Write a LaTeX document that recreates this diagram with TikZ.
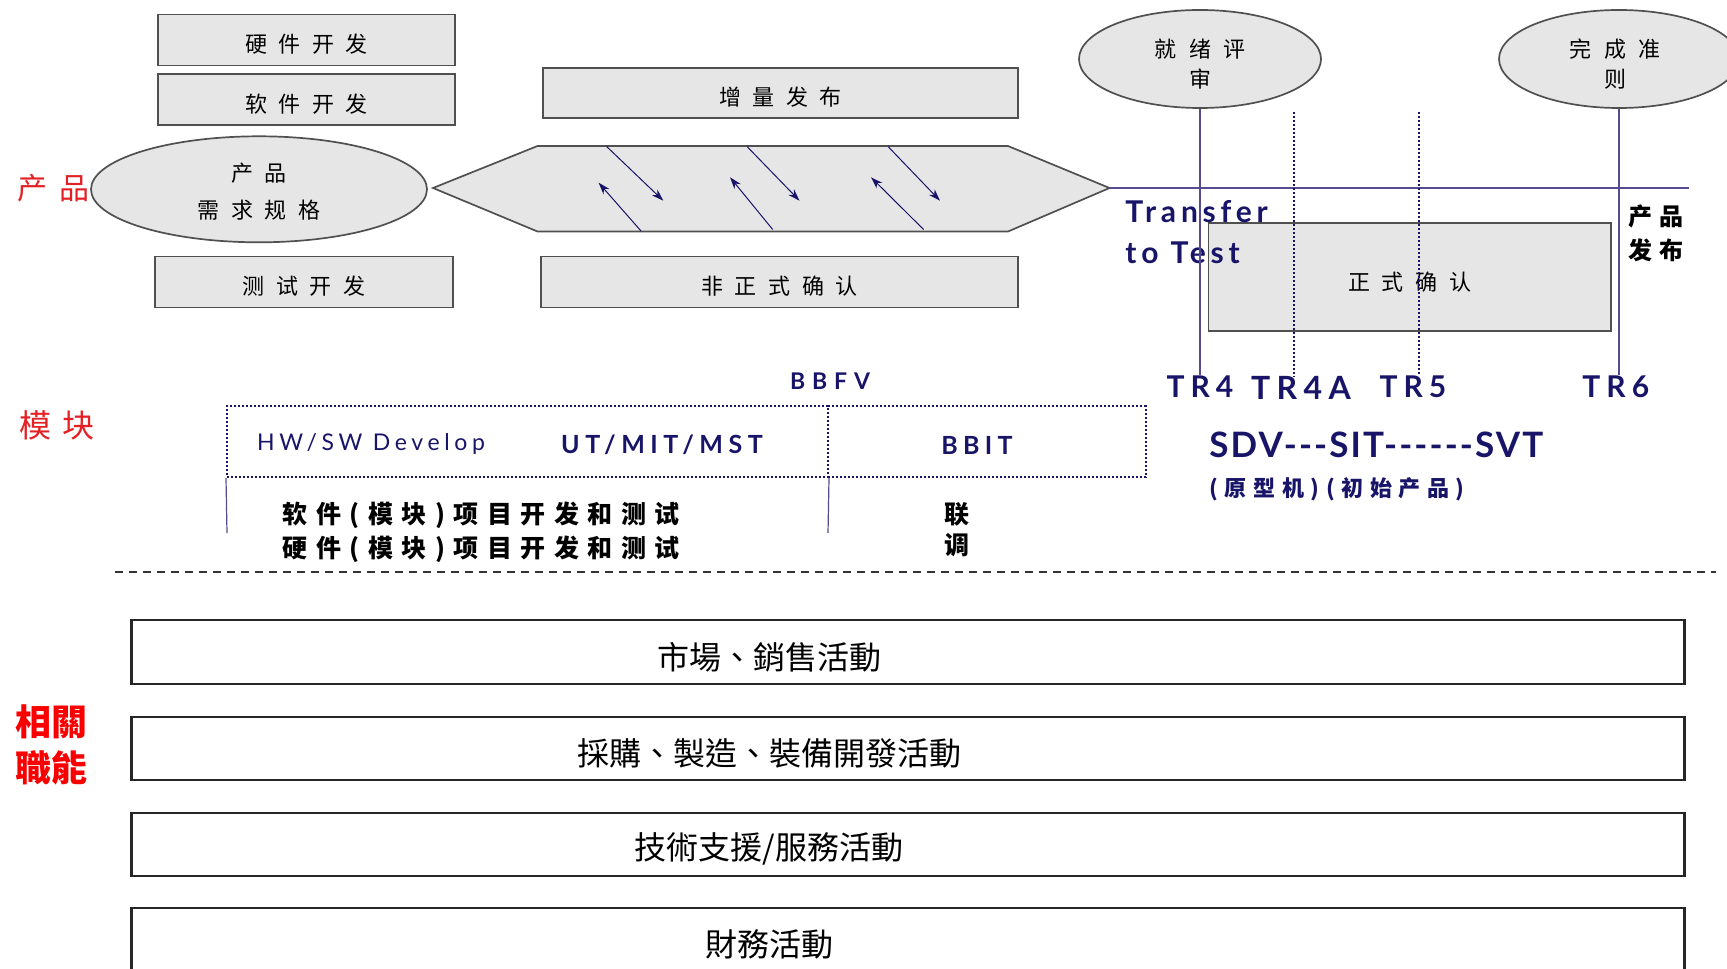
\documentclass[tikz,border=0pt]{standalone}
\usepackage{fontspec}
\usetikzlibrary{shapes.geometric,arrows.meta}
\newfontfamily\cjk{Noto Sans CJK SC}
\newfontfamily\cjktc{Noto Sans CJK TC}
\newfontfamily\lat{Lato}
\definecolor{tnavy}{RGB}{24,20,104}
\definecolor{slate}{RGB}{84,76,142}
\definecolor{boxgray}{RGB}{230,230,230}
\definecolor{edgegray}{RGB}{80,80,80}
\definecolor{lblred}{RGB}{228,32,36}
\definecolor{purered}{RGB}{250,0,0}
\newcommand\spaced[2]{{\addfontfeature{LetterSpace=#1}#2\hspace{-#1\dimexpr0.01em\relax}}}
\newcommand\dn[2]{\raisebox{-#1}[\height][\depth]{#2}}
\tikzset{
  gbox/.style={draw=edgegray, line width=0.85pt, fill=boxgray, inner sep=0pt,
    text height=12.6pt, text depth=0pt,
    font=\cjk\fontsize{11pt}{13pt}\selectfont},
  gell/.style={ellipse, draw=edgegray, line width=0.85pt, fill=boxgray, inner sep=0pt},
  hexs/.style={draw=edgegray, line width=0.85pt, fill=boxgray},
  iarr/.style={draw=tnavy, line width=0.5pt, -{Stealth[length=6pt,width=4pt]}},
  slateline/.style={draw=slate, line width=0.9pt},
  dotline/.style={draw=tnavy, line width=1pt, dash pattern=on 1pt off 1pt},
  dotbox/.style={draw=tnavy, line width=1pt, dash pattern=on 1pt off 1pt, inner sep=0pt},
  trlbl/.style={inner sep=0pt, text=tnavy, font=\lat\bfseries\fontsize{15pt}{18pt}\selectfont},
  navyb/.style={inner sep=0pt, text=tnavy, font=\lat\bfseries\fontsize{12.5pt}{15pt}\selectfont},
  navyr/.style={inner sep=0pt, text=tnavy, font=\lat\fontsize{11.5pt}{14pt}\selectfont},
  modtxt/.style={inner sep=0pt, text=black, font=\cjk\bfseries\fontsize{12.5pt}{14pt}\selectfont},
  wbox/.style={draw=black!85, line width=1.2pt, fill=white, inner sep=0pt},
  btext/.style={inner sep=0pt, font=\cjktc\fontsize{16pt}{19pt}\selectfont},
  redlbl/.style={inner sep=0pt, text=lblred, font=\cjk\fontsize{15pt}{18pt}\selectfont},
}
\begin{document}
\begin{tikzpicture}[x=0.5pt,y=-0.5pt]
\useasboundingbox (0,0) rectangle (1727,968);
\clip (0,0) rectangle (1727,968);

% ---------- product row ----------
\node[redlbl] (lprod) at (53.5,188) {\spaced{43}{产品}};
\node[gbox, minimum width=148.5pt, minimum height=25.5pt] (hw) at (306.5,40) {\spaced{53}{硬件开发}};
\node[gbox, minimum width=148.5pt, minimum height=25.5pt] (sw) at (306.5,99.5) {\spaced{53}{软件开发}};
\node[gbox, minimum width=149pt, minimum height=25.5pt] (tst) at (304,282) {\spaced{53}{测试开发}};
\node[gbox, minimum width=237.5pt, minimum height=25pt] (inc) at (780.5,93) {\spaced{53}{增量发布}};
\node[gbox, minimum width=238.5pt, minimum height=25.5pt] (inf) at (779.5,282) {\spaced{53}{非正式确认}};
\node[gell, minimum width=168pt, minimum height=53pt, font=\cjk\fontsize{11pt}{18.5pt}\selectfont] (req) at (259,189.3) {\dn{1.5pt}{\begin{tabular}{@{}c@{}}\spaced{53}{产品}\\\spaced{53}{需求规格}\end{tabular}}};

\draw[hexs] (433,188) coordinate (hexL) -- (537.5,146) -- (1008,146) -- (1109.5,188) coordinate (hexR) -- (1008,231.5) -- (537.5,231.5) -- cycle;
\draw[iarr] (606.6,146.5) -- (663.3,200.7);
\draw[iarr] (747,146.5) -- (799.5,200.7);
\draw[iarr] (888,146.5) -- (940,200.7);
\draw[iarr] (641,231) -- (598.6,182.7);
\draw[iarr] (772.7,229.5) -- (730,177.3);
\draw[iarr] (923.6,229.5) -- (871,177.3);

\node[gell, minimum width=121pt, minimum height=49pt, font=\cjk\fontsize{11pt}{15.25pt}\selectfont] (ready) at (1200,59) {\dn{3.6pt}{\begin{tabular}{@{}c@{}}\spaced{55}{就绪评}\\审\end{tabular}}};
\node[gell, minimum width=120pt, minimum height=49pt, font=\cjk\fontsize{11pt}{15.25pt}\selectfont] (done) at (1619,59) {\hspace{-4pt}\dn{3.6pt}{\begin{tabular}{@{}c@{}}\spaced{55}{完成准}\\则\end{tabular}}};

\coordinate (hEnd) at (1689,188);
\draw[slateline] (hexR) -- (hEnd);

\node[gbox, minimum width=201.25pt, minimum height=54.15pt, text height=13.2pt] (frm) at (1409.75,276.85) {\spaced{53}{正式确认}};

\node[inner sep=0pt, text=tnavy, font=\lat\bfseries\fontsize{15pt}{20.65pt}\selectfont, align=left, anchor=west] (tt) at (1125,232) {\spaced{16}{Transfer}\\\spaced{16}{to Test}};
\node[inner sep=0pt, font=\cjk\bfseries\fontsize{12pt}{17pt}\selectfont, align=left, anchor=west] (rel) at (1628,233) {\spaced{30}{产品}\\\spaced{30}{发布}};

\node[trlbl] (tr4) at (1200,386.5) {\spaced{20}{TR4}};
\node[trlbl, font=\lat\bfseries\fontsize{16pt}{18pt}\selectfont] (tr4a) at (1301,388) {\spaced{20}{TR4A}};
\node[trlbl] (tr5) at (1413,386.5) {\spaced{20}{TR5}};
\node[trlbl] (tr6) at (1615.8,386.5) {\spaced{20}{TR6}};

\draw[slateline] (ready.south) -- (ready.south |- tr4.north);
\coordinate (t4a) at (1294.4,112);
\draw[dotline] (t4a) -- (t4a |- tr4a.north);
\coordinate (t5) at (1419,112);
\draw[dotline] (t5) -- (t5 |- tr5.north);
\draw[slateline] (done.south) -- (done.south |- tr6.north);

% ---------- module row ----------
\node[redlbl, font=\cjk\fontsize{16pt}{18pt}\selectfont] (lmod) at (57,425) {\spaced{32}{模块}};
\node[navyb, font=\lat\bfseries\fontsize{11.5pt}{14pt}\selectfont] (bbfv) at (830,381.5) {\spaced{30}{BBFV}};
\node[dotbox, minimum width=300.5pt, minimum height=35.5pt] (dl) at (527.5,441.5) {};
\node[dotbox, minimum width=158.75pt, minimum height=35.5pt] (dr) at (986.75,441.5) {};
\node[navyr] (hwsw) at (371,444) {\spaced{20}{HW/SW Develop}};
\node[navyb] (ut) at (662,445) {\spaced{22}{UT/MIT/MST}};
\node[navyb] (bbit) at (977,445) {\spaced{21}{BBIT}};
\coordinate (v1) at (227,533);
\coordinate (v2) at (828,533);
\draw[draw=slate, line width=0.6pt] (dl.south west) -- (v1);
\draw[draw=slate, line width=0.6pt] (dl.south east) -- (v2);
\node[modtxt] (swm) at (481.3,515) {\spaced{34}{软件(模块)项目开发和测试}};
\node[modtxt] (hwm) at (481.3,549) {\spaced{34}{硬件(模块)项目开发和测试}};
\node[modtxt] (lian) at (956.5,514) {联};
\node[modtxt] (tiao) at (956.5,545) {调};

\node[inner sep=0pt, text=tnavy, font=\lat\bfseries\fontsize{17.5pt}{20pt}\selectfont, anchor=west] (sdv) at (1209,444.5) {\spaced{6}{SDV---SIT------SVT}};
\node[inner sep=0pt, text=tnavy, font=\cjk\bfseries\fontsize{11pt}{13pt}\selectfont, anchor=west] (proto) at (1209,489) {\spaced{30}{(原型机)(初始产品)}};

% separator
\coordinate (sepL) at (114.5,571.7);
\coordinate (sepR) at (1716,571.7);
\draw[draw=black!80, line width=1pt, dash pattern=on 4pt off 3pt] (sepL) -- (sepR);

% ---------- related functions ----------
\node[inner sep=0pt, text=purered, font=\cjktc\bfseries\fontsize{18pt}{23pt}\selectfont, align=center] (lfunc) at (51,745) {相關\\職能};
\node[wbox, minimum width=776.5pt, minimum height=32pt] (b1) at (908,652) {};
\node[wbox, minimum width=776.5pt, minimum height=31.5pt] (b2) at (908,748.5) {};
\node[wbox, minimum width=776.5pt, minimum height=31.5pt] (b3) at (908,844.2) {};
\node[wbox, minimum width=776.5pt, minimum height=31.5pt] (b4) at (908,939.6) {};
\node[btext] (t1) at (769,657.5) {市場、銷售活動};
\node[btext] (t2) at (769,753.4) {採購、製造、裝備開發活動};
\node[btext] (t3) at (769,849.2) {技術支援/服務活動};
\node[btext] (t4) at (769,944) {財務活動};
\end{tikzpicture}
\end{document}
